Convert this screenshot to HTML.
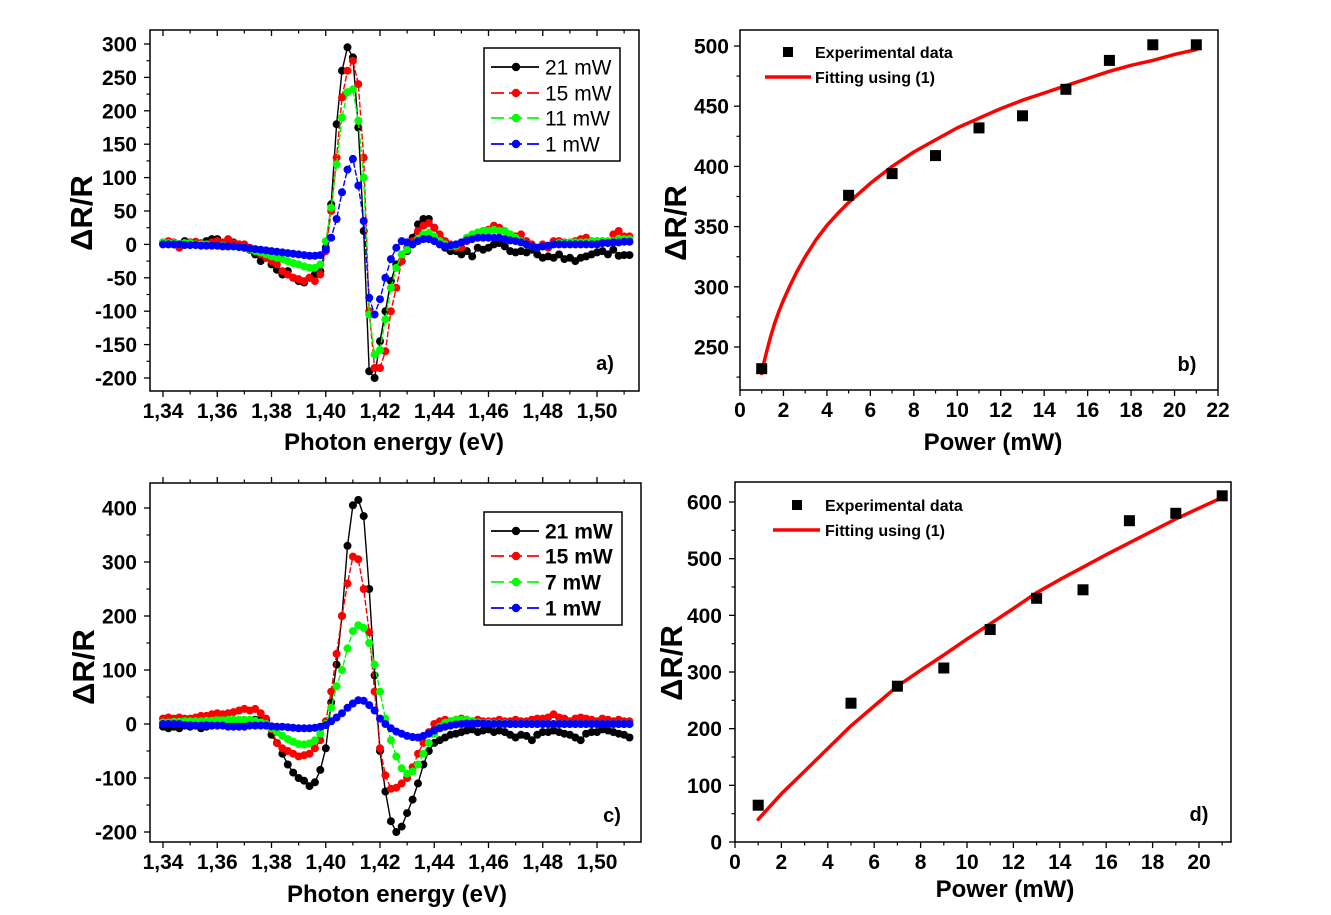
<!DOCTYPE html>
<html><head><meta charset="utf-8">
<style>
body{margin:0;background:#fff;}
svg{display:block;font-family:"Liberation Sans",Arial,sans-serif;}
</style></head>
<body>
<svg id="fig" width="1331" height="915" viewBox="0 0 1331 915" xmlns="http://www.w3.org/2000/svg"></svg>
<script>
// ---------- data ----------
const energyStart = 1.34, energyStep = 0.002; // 87 samples 1.340..1.512
const aBlack = [2,3,0,-2,5,3,2,0,5,8, 8,2,-3,3,0, -5,-8,-15,-25,-20, -30,-38,-45,-40,-50, -55,-57,-50,-45,-40,
  -5,60,180,260,295,280,175,20,-190,-200,-145,-100,-55,-30,-25,-10,10,30,38,38,25,10,-5,-10,-10,-15,-10,-18,-5,-8,
  -5,0,2,-3,-10,-12,-10,-12,-8,-15,-20,-18,-20,-15,-22,-20,-25,-20,-18,-15,-12,-10,-15,-8,-17,-16,-16];
const aRed = [3,5,3,-5,2,3,4,2,0,3,5,3,8,2,0, 0,-5,-10,-15,-20, -25,-30,-40,-45,-50, -52,-55,-50,-55,-45,
  -10,50,130,220,260,275,240,130,-100,-185,-185,-160,-100,-65,-25,-5,5,20,28,32,25,15,5,0,-5,-5,5,10,15,20,
  22,28,25,20,15,12,15,5,0,-5,0,-5,5,5,3,3,5,8,10,5,5,5,3,15,20,12,12];
const aGreen = [3,2,2,0,2,2,0,0,0,-2,-2,-2,-3,-3,-4, -5,-7,-10,-12,-15, -18,-20,-22,-25,-28, -30,-33,-35,-35,-30,
  5,55,120,190,228,232,185,100,-105,-165,-158,-112,-65,-35,-15,-8,0,8,15,17,12,5,0,-3,-2,3,10,15,18,20,
  20,22,20,20,15,10,5,0,-3,-5,-3,-2,0,2,2,3,3,3,3,5,5,5,5,5,8,8,8];
const aBlue = [0,0,0,0,-1,-1,-1,-2,-2,-2,-2,-3,-3,-3,-4, -5,-6,-7,-8,-9, -10,-11,-12,-13,-14, -15,-16,-17,-17,-16,
  -8,10,38,78,112,128,88,35,-80,-105,-82,-50,-22,-5,5,3,0,5,8,8,5,0,-3,-2,0,3,6,8,10,10,
  10,10,10,8,6,5,3,0,-3,-5,-3,-2,0,0,0,0,0,0,0,0,0,2,2,3,3,4,4];
const cBlack = [-5,-8,-5,-8,-3,-5,-3,-8,-5,-3,-2,0,-3,-2,0, 3,5,8,8,5, -20,-35,-55,-75,-90, -100,-105,-115,-108,-85,
  -45,40,110,200,330,405,415,385,250,90,-50,-125,-180,-200,-190,-165,-140,-110,-75,-50,-35,-30,-25,-20,-18,-15,-12,-10,-15,-12,
  -10,-15,-12,-15,-20,-25,-20,-22,-30,-20,-15,-15,-12,-15,-18,-20,-25,-30,-18,-15,-15,-10,-12,-15,-18,-20,-25];
const cRed = [10,12,10,12,10,10,12,15,15,18,20,18,20,22,25, 28,25,28,20,10, -10,-35,-45,-50,-55, -60,-58,-55,-45,-30,
  5,60,130,200,260,310,305,250,170,60,-45,-95,-120,-118,-110,-100,-80,-55,-35,-15,0,5,8,5,8,10,8,5,8,5,
  5,5,8,5,5,8,5,5,8,10,10,12,18,12,10,5,10,12,10,8,5,10,8,5,8,5,5];
const cGreen = [3,3,4,4,5,5,5,5,6,6,7,7,8,8,8, 8,8,6,3,0, -8,-15,-22,-28,-33, -37,-38,-36,-30,-18,
  0,30,70,100,140,172,183,178,150,110,60,10,-30,-60,-82,-92,-88,-75,-55,-35,-18,-5,2,5,8,8,8,5,3,2,
  2,1,1,1,0,0,0,0,0,0,0,0,0,0,0,0,0,0,0,0,0,0,0,0,0,0,0];
const cBlue = [0,0,0,0,-2,-2,-3,-3,-2,-3,-3,-3,-5,-5,-5, -5,-3,-3,-3,-3, -4,-5,-5,-6,-7, -8,-8,-8,-7,-5,
  -2,5,12,20,30,38,44,43,35,25,10,0,-8,-14,-18,-22,-24,-25,-22,-18,-12,-8,-5,-3,-1,0,1,1,1,1,
  0,0,0,0,0,0,0,0,0,0,0,0,0,0,0,0,0,0,0,0,0,0,0,0,0,0,0];
const aLegendLabels = ["21 mW","15 mW","11 mW","1 mW"];
const cLegendLabels = ["21 mW","15 mW","7 mW","1 mW"];
const energyTicks = [1.34,1.36,1.38,1.40,1.42,1.44,1.46,1.48,1.50];
const energyTickLabels = ["1,34","1,36","1,38","1,40","1,42","1,44","1,46","1,48","1,50"];
const aYTicks = [-200,-150,-100,-50,0,50,100,150,200,250,300];
const cYTicks = [-200,-100,0,100,200,300,400];

const bPower = [1,5,7,9,11,13,15,17,19,21];
const bValues = [232,376,394,409,432,442,464,488,501,501];
const bFitX = [1,1.1,1.25,1.4,1.6,1.8,2,2.3,2.6,3,3.5,4,4.5,5,5.5,6,7,8,9,10,11,12,13,14,15,16,17,18,19,20,21];
const bFitY = [228,237,248,258,270,280,289,301,312,325,339,351,361,370,378,386,400,412,422,432,440,448,455,461,467,473,479,484,488,493,497];
const bXTicks = [0,2,4,6,8,10,12,14,16,18,20,22];
const bYTicks = [250,300,350,400,450,500];

const dPower = [1,5,7,9,11,13,15,17,19,21];
const dValues = [65,245,275,307,375,430,445,567,580,611];
const dFitX = [1,2,3,4,5,6,7,8,9,10,11,12,13,14,15,16,17,18,19,20,21];
const dFitY = [40,85,125,165,205,240,275,303,330,358,385,412,440,463,485,507,528,549,570,589,608];
const dXTicks = [0,2,4,6,8,10,12,14,16,18,20];
const dYTicks = [0,100,200,300,400,500,600];

// ---------- helpers ----------
const NS = "http://www.w3.org/2000/svg";
const svg = document.getElementById("fig");
function mk(tag, attrs, parent){
  const e = document.createElementNS(NS, tag);
  for (const k in attrs) e.setAttribute(k, attrs[k]);
  (parent||svg).appendChild(e);
  return e;
}
function txt(str, x, y, size, anchor, weight, parent, rot){
  const t = mk("text", {x:x, y:y, "font-size":size, "text-anchor":anchor, "font-weight":weight, fill:"#000"}, parent);
  if (rot) t.setAttribute("transform", "rotate(" + rot + " " + x + " " + y + ")");
  t.textContent = str;
  return t;
}
function linScale(d0, d1, r0, r1){ return v => r0 + (v - d0) * (r1 - r0) / (d1 - d0); }

function axesFrame(P, name){
  const g = mk("g", {});
  
  
  const f = mk("rect", {x:P.x0, y:P.y0, width:P.x1-P.x0, height:P.y1-P.y0, fill:"none", stroke:"#000", "stroke-width":1.5}, g);
  
  
  return g;
}
function xAxis(P, g, ticks, labels, minorStep, topTicks){
  const xa = mk("g", {}, g);
  
  
  ticks.forEach((v, i) => {
    const x = P.sx(v);
    mk("line", {x1:x, y1:P.y1, x2:x, y2:P.y1+6, stroke:"#000", "stroke-width":1.3}, xa);
    if (topTicks) mk("line", {x1:x, y1:P.y0, x2:x, y2:P.y0+topTicks*6, stroke:"#000", "stroke-width":1.3}, xa);
    const t = txt(labels[i], x, P.y1+27, 21, "middle", "bold", xa);
    
    
    const m = v + minorStep;
    const xm = P.sx(m);
    if (xm < P.x1 - 1) {
      mk("line", {x1:xm, y1:P.y1, x2:xm, y2:P.y1+3.5, stroke:"#000", "stroke-width":1.2}, xa);
      if (topTicks) mk("line", {x1:xm, y1:P.y0, x2:xm, y2:P.y0+topTicks*3.5, stroke:"#000", "stroke-width":1.2}, xa);
    }
  });
}
function yAxis(P, g, ticks, minorStep, labelRight){
  const ya = mk("g", {}, g);
  
  
  ticks.forEach((v) => {
    const y = P.sy(v);
    mk("line", {x1:P.x0, y1:y, x2:P.x0-6, y2:y, stroke:"#000", "stroke-width":1.3}, ya);
    const t = txt(String(v), labelRight, y+7.5, 21, "end", "bold", ya);
    
    
  });
  const hi = ticks[ticks.length-1] + minorStep;
  for (let k = ticks[0] - minorStep; k <= hi + 1e-9; k += 2*minorStep) {
    const y = P.sy(k);
    if (y > P.y0 + 1 && y < P.y1 - 1)
      mk("line", {x1:P.x0, y1:y, x2:P.x0-3.5, y2:y, stroke:"#000", "stroke-width":1.2}, ya);
  }
}
function spectrumSeries(P, g, values, color, dashed, name){
  const sg = mk("g", {}, g);
  
  
  const pts = values.map((v, i) => [P.sx(energyStart + i*energyStep), P.sy(v)]);
  const ln = mk("polyline", {points: pts.map(p => p[0].toFixed(1)+","+p[1].toFixed(1)).join(" "), fill:"none", stroke:color, "stroke-width":1.4}, sg);
  if (dashed) ln.setAttribute("stroke-dasharray", "6,2");
  pts.forEach(p => {
    const c = mk("circle", {cx:p[0].toFixed(1), cy:p[1].toFixed(1), r:4, fill:color}, sg);
    
    
  });
}
function legendSpectra(g, box, ys, labels, bold){
  const lg = mk("g", {}, g);
  
  
  mk("rect", {x:box[0], y:box[1], width:box[2], height:box[3], fill:"#fff", stroke:"#000", "stroke-width":1.5}, lg);
  const colors = ["#000","#f00","#0f0","#00f"];
  labels.forEach((lab, i) => {
    const e = mk("g", {}, lg);
    
    
    const y = ys[i];
    const l = mk("line", {x1:box[0]+7, y1:y, x2:box[0]+55, y2:y, stroke:colors[i], "stroke-width":1.8}, e);
    if (i > 0) l.setAttribute("stroke-dasharray", "13,5");
    mk("circle", {cx:box[0]+32, cy:y, r:4.2, fill:colors[i]}, e);
    txt(lab, box[0]+61, y+7.5, 21, "start", bold ? "bold" : "normal", e);
  });
}

// ---------- spectra panels ----------
function spectraPanel(opt){
  const P = {x0:opt.x0, x1:opt.x1, y0:opt.y0, y1:opt.y1};
  P.sx = linScale(1.34, 1.50, opt.e134, opt.e150);
  P.sy = linScale(opt.yA, opt.yB, opt.pA, opt.pB);
  const g = axesFrame(P, opt.name);
  xAxis(P, g, energyTicks, energyTickLabels, 0.01, opt.topTicks);
  yAxis(P, g, opt.yTicks, opt.minor, opt.labelRight);
  spectrumSeries(P, g, opt.series[0], "#000", false, "series-21mw");
  spectrumSeries(P, g, opt.series[1], "#f00", true, "series-15mw");
  spectrumSeries(P, g, opt.series[2], "#0f0", true, opt.greenName);
  spectrumSeries(P, g, opt.series[3], "#00f", true, "series-1mw");
  legendSpectra(g, opt.legendBox, opt.legendYs, opt.legendLabels, opt.boldLegend);
  const xt = txt("Photon energy (eV)", opt.xTitle[0], opt.xTitle[1], 24, "middle", "bold", g);
  
  
  const yt = txt("\u0394R/R", opt.yTitle[0], opt.yTitle[1], 31, "middle", "bold", g, -90);
  
  
  const pl = txt(opt.label, opt.labelPos[0], opt.labelPos[1], 20, "middle", "bold", g);
  
  
}
spectraPanel({name:"panel-a", x0:150, x1:639, y0:30, y1:391, e134:163, e150:597, yA:300, yB:-200, pA:44, pB:378,
  yTicks:aYTicks, minor:25, labelRight:137, series:[aBlack,aRed,aGreen,aBlue], greenName:"series-11mw",
  legendBox:[484,48,136,113], legendYs:[67,93,118,144], legendLabels:aLegendLabels, boldLegend:false,
  xTitle:[394,450], yTitle:[92,213], label:"a)", labelPos:[605,370], topTicks:1});
spectraPanel({name:"panel-c", x0:150, x1:641, y0:483, y1:842, e134:163, e150:597, yA:400, yB:-200, pA:508, pB:832,
  yTicks:cYTicks, minor:50, labelRight:137, series:[cBlack,cRed,cGreen,cBlue], greenName:"series-7mw",
  legendBox:[484,512,138,113], legendYs:[531,556,582,608], legendLabels:cLegendLabels, boldLegend:true,
  xTitle:[397,902], yTitle:[94,667], label:"c)", labelPos:[612,822], topTicks:-1});

// ---------- power panels ----------
function powerPanel(opt){
  const P = {x0:opt.x0, x1:opt.x1, y0:opt.y0, y1:opt.y1};
  P.sx = linScale(0, opt.xB, opt.x0p, opt.xBp);
  P.sy = linScale(opt.yA, opt.yB, opt.pA, opt.pB);
  const g = axesFrame(P, opt.name);
  xAxis(P, g, opt.xTicks, opt.xTicks.map(String), 1, 0);
  yAxis(P, g, opt.yTicks, opt.minor, opt.labelRight);
  const fit = mk("polyline", {points: opt.fitX.map((x,i) => P.sx(x).toFixed(1)+","+P.sy(opt.fitY[i]).toFixed(1)).join(" "),
    fill:"none", stroke:"#f00", "stroke-width":3.5, "stroke-linejoin":"round", "stroke-linecap":"round"}, g);
  
  
  opt.px.forEach((x, i) => {
    const s = mk("rect", {x:(P.sx(x)-5.5).toFixed(1), y:(P.sy(opt.py[i])-5.5).toFixed(1), width:11, height:11, fill:"#000"}, g);
    
    
  });
  const lg = mk("g", {}, g);
  
  
  mk("rect", {x:opt.leg[0]-5, y:opt.leg[1]-5, width:10, height:10, fill:"#000"}, lg);
  txt("Experimental data", opt.leg[2], opt.leg[1]+6, 16, "start", "bold", lg);
  mk("line", {x1:opt.leg[3], y1:opt.leg[4], x2:opt.leg[5], y2:opt.leg[4], stroke:"#f00", "stroke-width":3.5}, lg);
  txt("Fitting using (1)", opt.leg[2], opt.leg[4]+6, 16, "start", "bold", lg);
  const xt = txt("Power (mW)", opt.xTitle[0], opt.xTitle[1], 24, "middle", "bold", g);
  
  
  const yt = txt("\u0394R/R", opt.yTitle[0], opt.yTitle[1], 31, "middle", "bold", g, -90);
  
  
  const pl = txt(opt.label, opt.labelPos[0], opt.labelPos[1], 20, "middle", "bold", g);
  
  
}
powerPanel({name:"panel-b", x0:740, x1:1218, y0:30, y1:390, xB:22, x0p:740, xBp:1218, yA:500, yB:250, pA:46, pB:347,
  xTicks:bXTicks, yTicks:bYTicks, minor:25, labelRight:729, px:bPower, py:bValues, fitX:bFitX, fitY:bFitY,
  leg:[788,52,815,765,77,811], xTitle:[993,450], yTitle:[686,223], label:"b)", labelPos:[1187,371]});
powerPanel({name:"panel-d", x0:735, x1:1231, y0:482, y1:842, xB:20, x0p:735, xBp:1199, yA:600, yB:0, pA:502, pB:842,
  xTicks:dXTicks, yTicks:dYTicks, minor:50, labelRight:722, px:dPower, py:dValues, fitX:dFitX, fitY:dFitY,
  leg:[797,505,825,773,530,820], xTitle:[1005,897], yTitle:[682,663], label:"d)", labelPos:[1199,821]});
</script>
</body></html>
